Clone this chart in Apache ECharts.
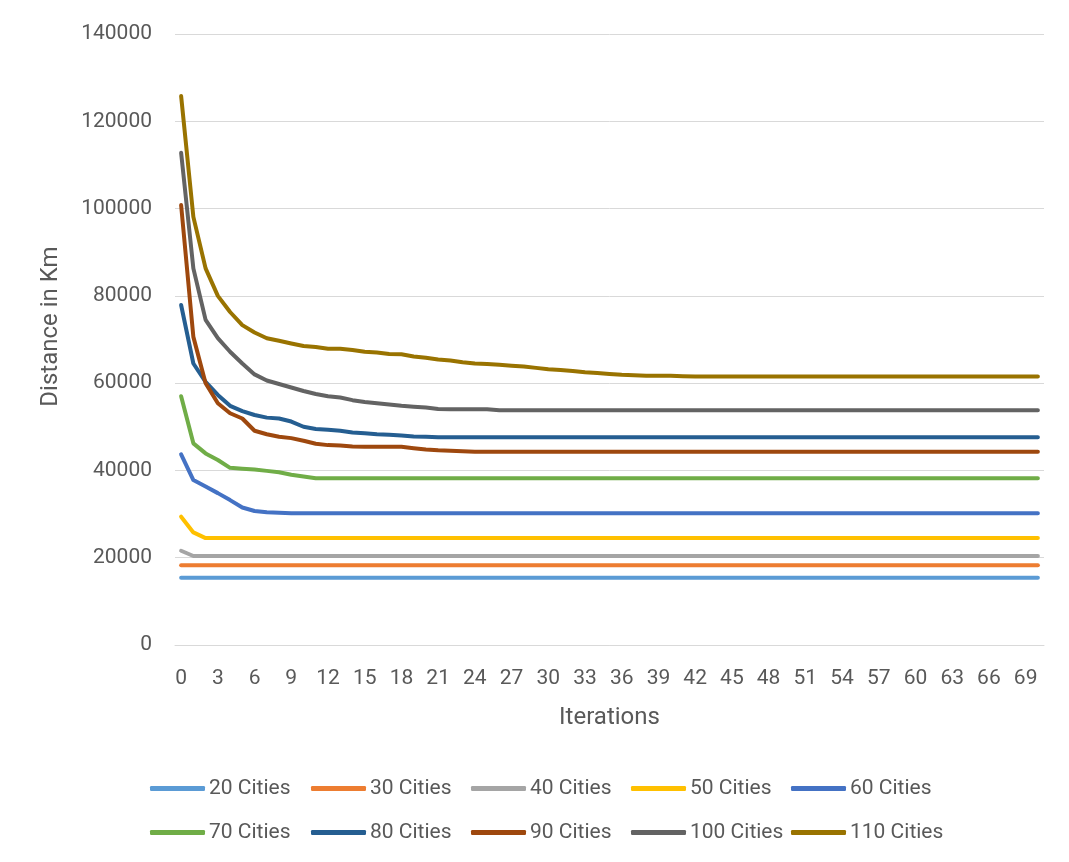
<!DOCTYPE html>
<html>
<head>
<meta charset="utf-8">
<script src="https://cdn.jsdelivr.net/npm/echarts@6/dist/echarts.min.js"></script>
<style>
html,body{margin:0;padding:0;background:#fff;}
#chart{width:1069px;height:862px;}
</style>
</head>
<body>
<div id="chart"></div>
<script>
const iterations = [0,1,2,3,4,5,6,7,8,9,10,11,12,13,14,15,16,17,18,19,20,21,22,23,24,25,26,27,28,29,30,31,32,33,34,35,36,37,38,39,40,41,42,43,44,45,46,47,48,49,50,51,52,53,54,55,56,57,58,59,60,61,62,63,64,65,66,67,68,69,70];
const yTicks = [0, 20000, 40000, 60000, 80000, 100000, 120000, 140000];
const seriesNames = ['20 Cities','30 Cities','40 Cities','50 Cities','60 Cities','70 Cities','80 Cities','90 Cities','100 Cities','110 Cities'];

const cities20 = [
15400,15400,15400,15400,15400,15400,15400,15400,15400,15400,
15400,15400,15400,15400,15400,15400,15400,15400,15400,15400,
15400,15400,15400,15400,15400,15400,15400,15400,15400,15400,
15400,15400,15400,15400,15400,15400,15400,15400,15400,15400,
15400,15400,15400,15400,15400,15400,15400,15400,15400,15400,
15400,15400,15400,15400,15400,15400,15400,15400,15400,15400,
15400,15400,15400,15400,15400,15400,15400,15400,15400,15400,
15400];
const cities30 = [
18300,18300,18300,18300,18300,18300,18300,18300,18300,18300,
18300,18300,18300,18300,18300,18300,18300,18300,18300,18300,
18300,18300,18300,18300,18300,18300,18300,18300,18300,18300,
18300,18300,18300,18300,18300,18300,18300,18300,18300,18300,
18300,18300,18300,18300,18300,18300,18300,18300,18300,18300,
18300,18300,18300,18300,18300,18300,18300,18300,18300,18300,
18300,18300,18300,18300,18300,18300,18300,18300,18300,18300,
18300];
const cities40 = [
21600,20400,20400,20400,20400,20400,20400,20400,20400,20400,
20400,20400,20400,20400,20400,20400,20400,20400,20400,20400,
20400,20400,20400,20400,20400,20400,20400,20400,20400,20400,
20400,20400,20400,20400,20400,20400,20400,20400,20400,20400,
20400,20400,20400,20400,20400,20400,20400,20400,20400,20400,
20400,20400,20400,20400,20400,20400,20400,20400,20400,20400,
20400,20400,20400,20400,20400,20400,20400,20400,20400,20400,
20400];
const cities50 = [
29400,25800,24500,24500,24500,24500,24500,24500,24500,24500,
24500,24500,24500,24500,24500,24500,24500,24500,24500,24500,
24500,24500,24500,24500,24500,24500,24500,24500,24500,24500,
24500,24500,24500,24500,24500,24500,24500,24500,24500,24500,
24500,24500,24500,24500,24500,24500,24500,24500,24500,24500,
24500,24500,24500,24500,24500,24500,24500,24500,24500,24500,
24500,24500,24500,24500,24500,24500,24500,24500,24500,24500,
24500];
const cities60 = [
43700,37800,36300,34800,33200,31500,30700,30400,30300,30200,
30200,30200,30200,30200,30200,30200,30200,30200,30200,30200,
30200,30200,30200,30200,30200,30200,30200,30200,30200,30200,
30200,30200,30200,30200,30200,30200,30200,30200,30200,30200,
30200,30200,30200,30200,30200,30200,30200,30200,30200,30200,
30200,30200,30200,30200,30200,30200,30200,30200,30200,30200,
30200,30200,30200,30200,30200,30200,30200,30200,30200,30200,
30200];
const cities70 = [
57000,46200,43900,42400,40600,40400,40200,39900,39600,39000,
38600,38200,38200,38200,38200,38200,38200,38200,38200,38200,
38200,38200,38200,38200,38200,38200,38200,38200,38200,38200,
38200,38200,38200,38200,38200,38200,38200,38200,38200,38200,
38200,38200,38200,38200,38200,38200,38200,38200,38200,38200,
38200,38200,38200,38200,38200,38200,38200,38200,38200,38200,
38200,38200,38200,38200,38200,38200,38200,38200,38200,38200,
38200];
const cities80 = [
77900,64500,60300,57300,54800,53600,52700,52100,51900,51200,
50000,49500,49300,49100,48700,48500,48300,48200,48000,47800,
47700,47600,47600,47600,47600,47600,47600,47600,47600,47600,
47600,47600,47600,47600,47600,47600,47600,47600,47600,47600,
47600,47600,47600,47600,47600,47600,47600,47600,47600,47600,
47600,47600,47600,47600,47600,47600,47600,47600,47600,47600,
47600,47600,47600,47600,47600,47600,47600,47600,47600,47600,
47600];
const cities90 = [
100800,70600,60000,55400,53100,51900,49100,48300,47700,47400,
46800,46100,45800,45700,45500,45400,45400,45400,45400,45100,
44800,44600,44500,44400,44300,44300,44300,44300,44300,44300,
44300,44300,44300,44300,44300,44300,44300,44300,44300,44300,
44300,44300,44300,44300,44300,44300,44300,44300,44300,44300,
44300,44300,44300,44300,44300,44300,44300,44300,44300,44300,
44300,44300,44300,44300,44300,44300,44300,44300,44300,44300,
44300];
const cities100 = [
112800,86300,74500,70300,67200,64500,62000,60600,59800,59000,
58200,57500,57000,56700,56100,55700,55400,55100,54800,54600,
54400,54100,54000,54000,54000,54000,53800,53800,53800,53800,
53800,53800,53800,53800,53800,53800,53800,53800,53800,53800,
53800,53800,53800,53800,53800,53800,53800,53800,53800,53800,
53800,53800,53800,53800,53800,53800,53800,53800,53800,53800,
53800,53800,53800,53800,53800,53800,53800,53800,53800,53800,
53800];
const cities110 = [
125800,98100,86300,80000,76300,73300,71600,70300,69700,69100,
68500,68300,67900,67900,67600,67200,67000,66700,66600,66100,
65800,65400,65200,64800,64500,64400,64200,64000,63800,63500,
63200,63000,62800,62500,62300,62100,61900,61800,61700,61700,
61700,61600,61500,61500,61500,61500,61500,61500,61500,61500,
61500,61500,61500,61500,61500,61500,61500,61500,61500,61500,
61500,61500,61500,61500,61500,61500,61500,61500,61500,61500,
61500];

const allData = [cities20, cities30, cities40, cities50, cities60, cities70, cities80, cities90, cities100, cities110];
const colors = ['#5B9BD5','#ED7D31','#A5A5A5','#FFC000','#4472C4','#70AD47','#255E91','#9E480E','#636363','#997300'];

const FONT = 'Roboto, "Open Sans", sans-serif';
const TXT = '#595959';

const legendLefts = [150, 311, 471, 631, 791];
const legendTops = [778, 822];
const legends = seriesNames.map((n, i) => ({
  data: [n],
  left: legendLefts[i % 5],
  top: legendTops[Math.floor(i / 5)],
  icon: 'roundRect',
  itemWidth: 55,
  itemHeight: 5,
  itemGap: 0,
  padding: 0,
  textStyle: { color: TXT, fontSize: 21, fontFamily: FONT, padding: [0, 0, 0, -1] }
}));

const chart = echarts.init(document.getElementById('chart'), null, { renderer: 'canvas' });
chart.setOption({
  animation: false,
  backgroundColor: '#ffffff',
  color: colors,
  grid: { left: 175, right: 25, top: 34, bottom: 217, containLabel: false },
  legend: legends,
  xAxis: {
    type: 'category',
    data: iterations,
    boundaryGap: true,
    name: 'Iterations',
    nameLocation: 'middle',
    nameGap: 61,
    nameTextStyle: { color: TXT, fontSize: 24, fontFamily: FONT },
    axisLine: { show: true, lineStyle: { color: '#D9D9D9', width: 1 } },
    axisTick: { show: false },
    axisLabel: { interval: 2, color: TXT, fontSize: 21, fontFamily: FONT, margin: 23 },
    splitLine: { show: false }
  },
  yAxis: {
    type: 'value',
    min: yTicks[0],
    max: yTicks[yTicks.length - 1],
    interval: yTicks[1] - yTicks[0],
    name: 'Distance in Km',
    nameLocation: 'middle',
    nameGap: 112,
    nameTextStyle: { color: TXT, fontSize: 24, fontFamily: FONT, padding: [0, 0, 0, 26] },
    axisLine: { show: false },
    axisTick: { show: false },
    axisLabel: { color: TXT, fontSize: 21, fontFamily: FONT, margin: 23, formatter: v => String(v) },
    splitLine: { show: true, lineStyle: { color: '#D9D9D9', width: 1 } }
  },
  series: seriesNames.map((n, i) => ({
    name: n,
    type: 'line',
    data: allData[i],
    showSymbol: false,
    symbol: 'none',
    smooth: false,
    lineStyle: { width: 4, color: colors[i], cap: 'round', join: 'round' },
    itemStyle: { color: colors[i] },
    emphasis: { disabled: true }
  }))
});
</script>
</body>
</html>
